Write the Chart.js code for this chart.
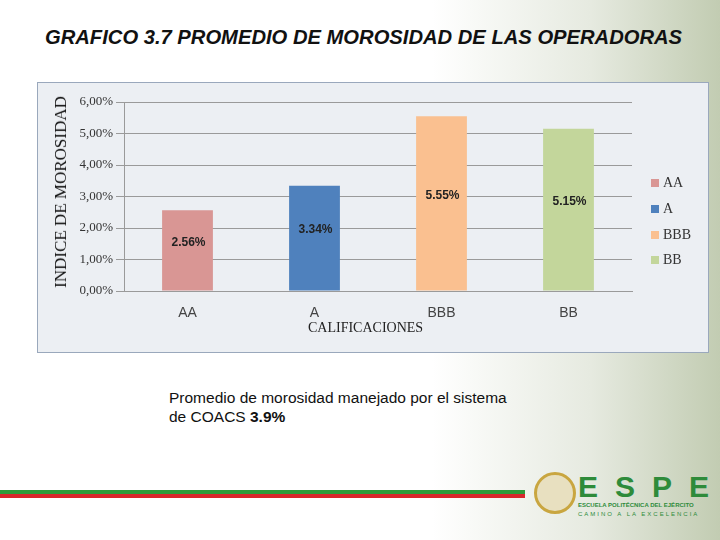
<!DOCTYPE html>
<html><head><meta charset="utf-8">
<script src="https://cdn.jsdelivr.net/npm/chart.js@4/dist/chart.umd.min.js"></script>
<style>
body{margin:0;width:720px;height:540px;position:relative;overflow:hidden;font-family:"Liberation Sans",Arial,sans-serif;
background:linear-gradient(90deg,#ffffff 0%,#ffffff 60%,#e6eae0 82%,#c2ccb2 100%);}
#title{position:absolute;left:45px;top:26px;font-size:20.2px;font-style:italic;font-weight:bold;color:#111;white-space:nowrap;}
#box{position:absolute;left:37px;top:82px;width:670px;height:269px;border:1px solid #9aa8bc;background:#eceff3;}
#cv{position:absolute;left:37px;top:82px;}
#ytitle{position:absolute;left:61px;top:192px;transform:translate(-50%,-50%) rotate(-90deg);font-family:"Liberation Serif",serif;font-size:17px;white-space:nowrap;color:#111;}
#xtitle{position:absolute;left:308px;top:320px;font-family:"Liberation Serif",serif;font-size:14px;color:#222;}
.lg{position:absolute;left:651px;font-family:"Liberation Serif",serif;font-size:14px;color:#333;}
.lg span{display:inline-block;width:8px;height:8px;margin-right:4px;}
#note{position:absolute;left:169px;top:388px;font-size:15.5px;color:#111;line-height:19px;}
#stripe1{position:absolute;left:0;top:490px;width:525px;height:4px;background:#2e9a3a;}
#stripe2{position:absolute;left:0;top:494px;width:525px;height:4px;background:#d8262c;}
#logo{position:absolute;left:578px;top:470px;font-size:30px;font-weight:bold;color:#2e8b3a;letter-spacing:17px;}
#sub1{position:absolute;left:578px;top:502px;font-size:6px;font-weight:bold;color:#2e8b3a;}
#sub2{position:absolute;left:578px;top:511px;font-size:6px;color:#2e8b3a;letter-spacing:2px;white-space:nowrap;}
#seal{position:absolute;left:534px;top:472px;width:36px;height:36px;border-radius:50%;border:3px solid #c9a640;background:#e8e0c0;}
</style></head><body>
<div id="title">GRAFICO 3.7 PROMEDIO DE MOROSIDAD DE LAS OPERADORAS</div>
<div id="box"></div>
<canvas id="cv" width="671" height="270"></canvas>
<div id="ytitle">INDICE DE MOROSIDAD</div>
<div id="xtitle">CALIFICACIONES</div>
<div class="lg" style="top:175px"><span style="background:#d99694"></span>AA</div>
<div class="lg" style="top:201px"><span style="background:#4f81bd"></span>A</div>
<div class="lg" style="top:227px"><span style="background:#fac090"></span>BBB</div>
<div class="lg" style="top:252px"><span style="background:#c3d69b"></span>BB</div>
<div id="note">Promedio de morosidad manejado por el sistema<br>de COACS <b>3.9%</b></div>
<div id="stripe1"></div><div id="stripe2"></div>
<div id="seal"></div>
<div id="logo">ESPE</div>
<div id="sub1">ESCUELA POLITÉCNICA DEL EJÉRCITO</div>
<div id="sub2">CAMINO A LA EXCELENCIA</div>
<script>
const categories=["AA","A","BBB","BB"];
const values=[2.56,3.34,5.55,5.15];
const labels=["2.56%","3.34%","5.55%","5.15%"];
const colors=["#d99694","#4f81bd","#fac090","#c3d69b"];
const labelPlugin={id:"lbl",afterDatasetsDraw(c){const ctx=c.ctx;const m=c.getDatasetMeta(0);
ctx.save();ctx.font="bold 12px 'Liberation Sans',Arial";ctx.fillStyle="#222";ctx.textAlign="center";ctx.textBaseline="middle";
m.data.forEach((b,i)=>{ctx.fillText(labels[i],b.x+1,(b.y+b.base)/2-8);});ctx.restore();}};
new Chart(document.getElementById("cv"),{type:"bar",
data:{labels:categories,datasets:[{data:values,backgroundColor:colors,barPercentage:0.4,categoryPercentage:1}]},
options:{responsive:false,animation:false,layout:{padding:{left:0,top:20,right:76,bottom:0}},
plugins:{legend:{display:false},tooltip:{enabled:false}},
scales:{y:{min:0,max:6,ticks:{stepSize:1,color:"#333",font:{family:"Liberation Serif",size:13},callback:v=>v.toFixed(2).replace(".",",")+"%"},
grid:{color:"#9a9a9a"},border:{color:"#9a9a9a"},afterFit(s){s.width=87;}},
x:{ticks:{color:"#444",font:{family:"Liberation Sans",size:14},padding:6},grid:{display:false},border:{color:"#9a9a9a"},afterFit(s){s.height=61;}}}},
plugins:[labelPlugin]});
</script>
</body></html>
